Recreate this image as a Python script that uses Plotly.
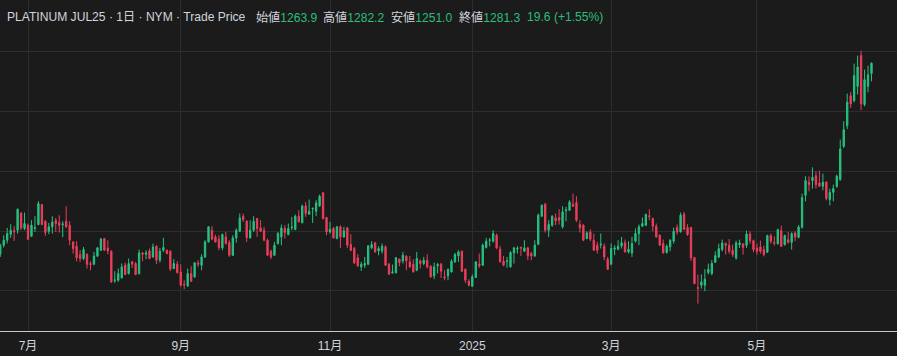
import plotly.graph_objects as go
import pandas as pd

# ---- categories (trading days, NYMEX daily bars) ----
holidays = ["2024-06-19", "2024-07-04", "2024-09-02", "2024-11-28", "2024-12-25",
            "2025-01-01", "2025-01-20", "2025-02-17", "2025-04-18", "2025-05-26"]
dates = [d.strftime("%Y-%m-%d") for d in pd.bdate_range("2024-06-18", "2025-06-18")
         if d.strftime("%Y-%m-%d") not in holidays]

tick_dates = ["2024-07-01", "2024-09-03", "2024-11-01", "2025-01-02", "2025-03-03", "2025-05-01"]
tick_labels = ["7月", "9月", "11月", "2025", "3月", "5月"]

# ---- OHLC values ----
opens = [
    961.5, 976.6, 984.9, 995.0, 1000.9, 1001.7, 1030.1, 1004.5, 1010.0, 991.6,
    1004.5, 1011.2, 1044.6, 1016.7, 1000.0, 1007.3, 1018.4, 1014.5, 1011.0, 1016.7,
    1010.0, 982.1, 974.9, 960.9, 954.3, 961.5, 945.9, 944.8, 958.2, 968.2,
    987.7, 971.5, 966.5, 917.4, 918.0, 921.9, 943.1, 929.1, 948.7, 945.9,
    929.1, 963.7, 961.5, 967.1, 957.0, 974.9, 951.5, 968.2, 968.2, 966.5,
    937.5, 944.8, 931.9, 911.3, 908.5, 929.1, 923.6, 947.0, 943.1, 957.0,
    982.1, 1001.7, 990.5, 986.6, 972.1, 990.5, 981.0, 959.8, 988.8, 1000.0,
    1025.1, 1016.7, 988.8, 1001.7, 1021.2, 1005.6, 1001.7, 984.9, 966.5, 959.8,
    979.4, 990.5, 1004.5, 994.4, 1005.6, 1002.8, 1025.1, 1014.5, 1042.4, 1028.5,
    1037.4, 1033.5, 1042.4, 1064.2, 1022.9, 998.9, 1004.5, 987.7, 1007.3, 990.5,
    1005.6, 977.7, 971.0, 955.4, 940.3, 943.1, 944.8, 972.1, 980.5, 967.1,
    967.1, 973.8, 944.8, 930.3, 930.8, 953.1, 950.3, 958.2, 948.7, 944.8,
    934.7, 950.3, 945.9, 951.5, 941.4, 925.2, 942.0, 944.8, 923.6, 925.2,
    931.9, 948.7, 958.7, 966.5, 936.4, 916.3, 907.9, 922.5, 944.8, 943.1,
    972.7, 984.4, 983.3, 993.3, 969.9, 949.8, 949.2, 940.3, 963.7, 970.4,
    973.2, 966.5, 972.1, 962.6, 958.7, 978.2, 1025.1, 1045.2, 1001.7, 1010.0,
    1022.3, 1022.9, 1007.3, 1034.6, 1035.1, 1045.2, 1048.0, 1011.2, 1010.0, 987.7,
    998.9, 984.9, 976.6, 977.1, 974.9, 953.1, 944.8, 969.9, 969.9, 975.5,
    980.5, 965.4, 963.7, 983.3, 996.1, 1008.4, 1010.0, 1025.7, 1021.2, 1008.4,
    993.3, 979.4, 964.3, 973.8, 983.3, 1006.1, 998.9, 1028.5, 1006.1, 1006.1,
    955.9, 905.7, 909.6, 909.6, 930.8, 929.0, 948.0, 956.9, 969.2, 979.2,
    976.4, 968.0, 955.2, 977.5, 978.6, 976.4, 995.4, 984.2, 971.9, 973.6,
    969.2, 964.7, 992.6, 981.4, 979.2, 1000.9, 977.5, 985.9, 981.4, 997.1,
    989.8, 1006.5, 1060.1, 1081.9, 1084.7, 1093.0, 1080.7, 1075.2, 1082.4, 1052.8,
    1065.1, 1075.2, 1086.3, 1142.1, 1176.7, 1226.9, 1218.5, 1242.5, 1293.9, 1211.9,
    1242.5, 1263.9,
]
highs = [
    979.0, 993.3, 1005.6, 1011.7, 1008.4, 1037.9, 1032.4, 1031.2, 1012.8, 1018.4,
    1025.1, 1050.2, 1045.7, 1018.4, 1013.9, 1025.1, 1022.3, 1026.8, 1016.7, 1041.8,
    1016.7, 983.3, 983.3, 968.2, 973.8, 962.6, 949.8, 965.4, 973.8, 988.8,
    988.8, 984.9, 968.2, 933.1, 937.5, 945.9, 947.6, 954.3, 950.3, 948.7,
    969.3, 965.4, 968.2, 971.0, 979.4, 976.6, 972.1, 988.8, 969.3, 968.2,
    953.1, 949.8, 944.8, 918.0, 937.5, 941.4, 948.7, 951.5, 961.5, 984.9,
    1008.4, 1008.4, 994.4, 993.3, 996.1, 998.9, 984.9, 993.3, 1004.5, 1029.6,
    1029.6, 1018.4, 1018.4, 1025.1, 1022.3, 1018.4, 1007.3, 987.7, 969.3, 982.1,
    998.9, 1011.2, 1010.0, 1012.8, 1024.0, 1027.9, 1035.1, 1044.6, 1049.1, 1053.0,
    1039.1, 1051.9, 1061.4, 1065.8, 1024.0, 1015.6, 1007.3, 1008.9, 1010.0, 1007.3,
    1007.3, 995.0, 973.8, 961.5, 948.7, 957.0, 976.6, 983.3, 982.1, 974.9,
    979.4, 976.6, 947.0, 944.2, 957.0, 954.3, 965.4, 959.8, 958.7, 953.1,
    965.4, 953.1, 957.0, 961.5, 943.1, 947.6, 947.0, 947.0, 934.7, 937.5,
    953.1, 963.7, 968.2, 967.6, 937.5, 919.7, 927.5, 949.8, 962.6, 979.4,
    988.8, 988.8, 1001.7, 996.1, 975.5, 958.7, 957.0, 966.5, 973.8, 974.9,
    973.8, 984.9, 973.8, 965.4, 984.9, 1029.6, 1044.6, 1047.4, 1018.4, 1026.8,
    1029.6, 1036.8, 1041.8, 1040.7, 1051.9, 1063.0, 1058.6, 1018.4, 1011.7, 1000.0,
    1003.3, 996.1, 982.1, 996.1, 979.4, 957.0, 979.4, 976.6, 984.9, 990.5,
    986.1, 983.3, 990.5, 1004.5, 1011.2, 1022.9, 1029.6, 1036.8, 1022.9, 1012.8,
    994.4, 986.1, 977.7, 986.6, 1006.1, 1011.2, 1031.2, 1032.4, 1011.7, 1007.3,
    957.0, 927.5, 927.5, 936.4, 945.9, 951.5, 966.4, 979.2, 985.9, 981.4,
    987.0, 977.5, 984.2, 985.9, 980.3, 1001.0, 999.8, 985.9, 979.2, 984.2,
    975.9, 994.3, 995.9, 991.5, 1004.3, 1009.3, 994.3, 998.7, 998.2, 999.8,
    1010.5, 1062.9, 1091.9, 1091.9, 1106.9, 1100.3, 1101.4, 1096.4, 1083.5, 1071.3,
    1078.0, 1094.7, 1153.3, 1184.0, 1230.3, 1233.1, 1280.5, 1293.9, 1302.2, 1270.4,
    1277.1, 1282.2,
]
lows = [
    957.0, 972.7, 979.4, 988.8, 983.8, 996.1, 1001.7, 1001.7, 985.0, 990.5,
    998.9, 1010.0, 1010.0, 992.2, 995.0, 996.1, 998.9, 997.8, 990.0, 1005.6,
    976.6, 962.6, 949.8, 948.7, 951.5, 937.5, 934.7, 943.1, 957.0, 967.1,
    967.1, 961.5, 913.5, 913.5, 915.2, 920.8, 926.4, 927.5, 938.6, 926.4,
    927.5, 949.8, 953.1, 953.1, 955.4, 944.8, 947.6, 965.4, 961.5, 933.1,
    936.4, 929.1, 906.8, 902.9, 906.8, 915.2, 921.9, 940.3, 934.7, 955.4,
    981.0, 984.9, 981.0, 968.2, 968.2, 977.7, 957.0, 958.7, 981.0, 998.9,
    1015.6, 982.1, 987.7, 998.9, 990.5, 998.9, 983.3, 958.7, 953.1, 958.7,
    977.7, 976.6, 987.7, 993.3, 1001.7, 1001.7, 1014.5, 1012.8, 1024.0, 1027.9,
    1013.9, 1025.7, 1040.7, 1019.5, 993.3, 996.1, 987.7, 986.6, 972.1, 988.8,
    972.1, 966.5, 945.3, 940.3, 933.6, 938.6, 943.1, 969.9, 964.3, 959.8,
    962.6, 942.0, 927.5, 929.1, 929.1, 941.4, 945.9, 934.7, 938.6, 930.8,
    933.1, 937.5, 943.1, 937.5, 921.9, 919.7, 929.1, 921.9, 918.0, 918.0,
    930.8, 947.0, 948.7, 931.9, 913.5, 907.9, 906.8, 921.9, 938.6, 942.0,
    971.0, 974.9, 981.0, 969.9, 947.6, 941.4, 938.6, 939.2, 945.9, 962.6,
    958.7, 965.4, 951.5, 951.5, 957.0, 976.6, 1024.0, 997.8, 990.5, 1007.3,
    1010.0, 1011.2, 1004.5, 1016.7, 1033.5, 1040.7, 1015.6, 997.8, 983.3, 986.6,
    983.3, 967.1, 962.6, 971.0, 951.5, 935.0, 943.1, 959.8, 968.2, 971.0,
    964.3, 962.6, 957.0, 981.0, 976.6, 1007.3, 1008.9, 1018.4, 1000.0, 989.4,
    975.5, 962.6, 962.6, 966.5, 979.4, 994.4, 997.8, 1001.7, 992.2, 950.3,
    911.3, 878.9, 904.0, 899.6, 927.5, 926.4, 946.8, 955.2, 966.4, 960.8,
    962.5, 956.9, 952.4, 971.9, 960.8, 971.9, 979.2, 964.7, 960.8, 962.5,
    958.0, 963.6, 979.2, 975.9, 977.5, 973.6, 975.9, 979.2, 969.2, 983.1,
    988.1, 1004.3, 1050.1, 1066.8, 1071.3, 1071.3, 1074.1, 1068.5, 1051.7, 1043.4,
    1050.1, 1072.4, 1084.6, 1139.3, 1171.1, 1206.3, 1215.8, 1228.6, 1202.4, 1209.1,
    1232.5, 1251.0,
]
closes = [
    976.6, 984.9, 996.1, 1001.7, 999.2, 1036.8, 1005.6, 1012.8, 986.6, 1010.0,
    1006.1, 1046.3, 1011.2, 997.8, 1007.3, 1015.6, 1012.8, 1010.0, 1012.0, 1007.3,
    984.9, 971.0, 955.4, 954.3, 969.3, 944.8, 944.2, 958.2, 972.1, 986.6,
    968.2, 967.1, 915.2, 918.5, 929.1, 940.3, 927.5, 945.9, 944.8, 927.5,
    963.7, 961.5, 963.7, 954.3, 973.8, 951.5, 966.5, 972.7, 962.6, 936.4,
    945.9, 930.8, 909.6, 910.2, 929.1, 916.3, 947.0, 944.8, 957.0, 982.1,
    1007.3, 986.6, 982.1, 972.7, 994.4, 979.4, 959.8, 988.8, 1001.7, 1022.3,
    1019.5, 989.4, 1001.7, 1016.7, 1004.5, 1000.0, 984.9, 959.8, 957.0, 976.6,
    996.1, 1005.6, 997.8, 1004.5, 1006.7, 1025.1, 1015.6, 1042.4, 1029.6, 1033.5,
    1038.5, 1047.4, 1058.6, 1021.2, 998.9, 1003.3, 988.8, 1007.3, 990.5, 1000.6,
    976.6, 968.2, 947.0, 942.0, 944.8, 945.9, 975.5, 977.7, 965.4, 971.0,
    974.9, 943.1, 928.0, 931.9, 955.4, 947.6, 959.8, 950.3, 940.3, 931.9,
    954.3, 945.9, 951.5, 940.3, 923.6, 940.3, 944.2, 933.1, 921.9, 936.4,
    949.8, 960.9, 965.4, 933.1, 918.0, 909.6, 923.6, 948.7, 942.0, 976.6,
    983.3, 985.5, 996.1, 972.1, 948.7, 943.1, 950.3, 964.3, 972.1, 971.5,
    972.1, 972.1, 958.7, 958.7, 976.6, 1026.8, 1043.5, 1001.7, 1011.2, 1025.1,
    1017.3, 1018.4, 1032.4, 1035.7, 1049.1, 1041.8, 1018.4, 1005.6, 984.9, 997.2,
    986.6, 968.2, 968.2, 978.2, 957.0, 936.4, 971.0, 972.1, 974.9, 980.5,
    965.4, 969.9, 979.4, 996.1, 1007.3, 1012.8, 1027.9, 1024.5, 1008.4, 990.5,
    976.6, 963.7, 974.9, 984.9, 1000.0, 998.9, 1026.8, 1003.3, 994.4, 955.4,
    912.4, 904.6, 915.2, 919.7, 936.4, 946.0, 959.1, 970.8, 980.3, 976.4,
    966.4, 960.8, 980.3, 980.3, 973.1, 995.4, 984.2, 969.2, 966.4, 966.4,
    960.8, 992.6, 983.1, 979.8, 1002.6, 974.7, 992.6, 981.4, 995.9, 990.4,
    1007.1, 1056.2, 1084.7, 1078.0, 1090.2, 1078.0, 1075.2, 1081.9, 1054.5, 1065.1,
    1071.3, 1091.9, 1137.7, 1170.0, 1215.8, 1213.0, 1260.4, 1274.9, 1213.0, 1253.7,
    1261.7, 1281.3,
]

assert len(dates) == len(opens) == len(highs) == len(lows) == len(closes)

up_color = "#26c281"
down_color = "#ec3f5b"
bg = "#1b1b1b"
grid = "#2d2d30"
text_color = "#d1d4dc"

fig = go.Figure(go.Candlestick(
    x=dates, open=opens, high=highs, low=lows, close=closes,
    increasing=dict(line=dict(color=up_color, width=1), fillcolor=up_color),
    decreasing=dict(line=dict(color=down_color, width=1), fillcolor=down_color),
    whiskerwidth=0, hoverinfo="skip",
))

W, H = 897, 356
fig.update_layout(
    width=W, height=H,
    margin=dict(l=0, r=0, t=0, b=25),
    paper_bgcolor=bg, plot_bgcolor=bg,
    showlegend=False, boxgap=0.45,
    font=dict(family="Liberation Sans, Noto Sans CJK JP", color=text_color, size=12),
    xaxis=dict(
        type="category", range=[-0.07, 258.35],
        tickmode="array", tickvals=tick_dates, ticktext=tick_labels,
        showgrid=True, gridcolor=grid, gridwidth=1,
        showline=True, linecolor="#c8c8c8", linewidth=1,
        ticks="", ticklabelstandoff=4, tickfont=dict(size=12, color=text_color),
        rangeslider=dict(visible=False), fixedrange=True,
    ),
    yaxis=dict(
        range=[833, 1387], tick0=0, dtick=100,
        showgrid=True, gridcolor=grid, gridwidth=1,
        showticklabels=False, zeroline=False, ticks="", fixedrange=True,
    ),
)

# ---- header (symbol + last bar OHLC) ----
last_o, last_h, last_l, last_c = opens[-1], highs[-1], lows[-1], closes[-1]
chg = last_c - closes[-2]
pct = chg / closes[-2] * 100
green = "#2bbd7e"
plot_h = H - 25
hy = 1 - 17.5 / plot_h
hfont = dict(family="Liberation Sans, Noto Sans CJK JP", size=12.1, color=text_color)

def header(px, txt):
    fig.add_annotation(xref="paper", yref="paper", x=px / W, y=hy, xanchor="left",
                       yanchor="middle", showarrow=False, text=txt, font=hfont)

header(5, "PLATINUM JUL25 · 1日 · NYM · Trade Price")
header(254, f"始値<span style='color:{green}'>{last_o:.1f}</span>")
header(321, f"高値<span style='color:{green}'>{last_h:.1f}</span>")
header(389, f"安値<span style='color:{green}'>{last_l:.1f}</span>")
header(457, f"終値<span style='color:{green}'>{last_c:.1f}</span>")
header(525, f"<span style='color:{green}'>{chg:.1f} ({pct:+.2f}%)</span>")

fig.write_html(
    "out.html",
    config={"displayModeBar": False, "staticPlot": True},
    post_script="document.body.style.margin='0';document.body.style.background='#1b1b1b';",
)
